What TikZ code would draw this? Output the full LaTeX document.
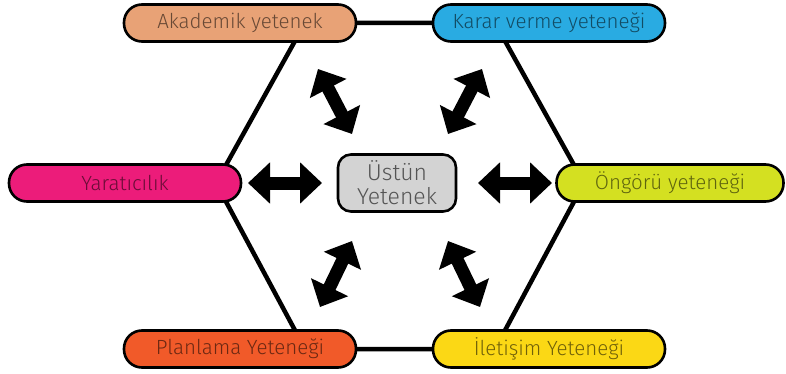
\documentclass[tikz,border=0pt]{standalone}
\usepackage{fontspec}
\setmainfont{Fira Sans Light}
\usetikzlibrary{arrows.meta}

\definecolor{akademik}{HTML}{E8A276}
\definecolor{karar}{HTML}{29ABE2}
\definecolor{yaraticilik}{HTML}{EC1C7A}
\definecolor{ongoru}{HTML}{D4E021}
\definecolor{planlama}{HTML}{F15A29}
\definecolor{iletisim}{HTML}{FBD815}
\definecolor{ustun}{HTML}{D3D3D3}

\tikzset{
	skill/.style={draw=black, line width=2.6pt, rounded corners=18pt,
		minimum width=232pt, minimum height=37pt, inner sep=0pt,
		font=\fontsize{20.5}{23}\selectfont, text=black, text opacity=0.55},
	hexline/.style={line width=4.5pt, line cap=round},
	fatarrow/.style={line width=13pt,
		{Triangle[width=40pt,length=22pt]}-{Triangle[width=40pt,length=22pt]}}
}

\begin{document}
\begin{tikzpicture}[x=1pt, y=-1pt]
		
		\useasboundingbox (0,0) rectangle (786,374);
		
		% Define the corners of the hexagon
		\coordinate (H1) at (305, 23);
		\coordinate (H2) at (495, 23);
		\coordinate (H3) at (584, 183);
		\coordinate (H4) at (495, 349);
		\coordinate (H5) at (305, 349);
		\coordinate (H6) at (216, 183);
		
		% Draw the hexagon behind the boxes
		\draw[hexline] (H1) -- (H2) -- (H3) -- (H4) -- (H5) -- (H6) -- cycle;
		
		% Draw the skill boxes
		\node[skill, fill=akademik] (aka) at (240, 23) {Akademik yetenek};
		\node[skill, fill=karar] (karar) at (549, 23) {Karar verme yeteneği};
		\node[skill, fill=yaraticilik] (yarat) at (125, 183) {Yaratıcılık};
		\node[skill, fill=ongoru, minimum width=227pt] (ongoru) at (670, 183) {Öngörü yeteneği};
		\node[skill, fill=planlama] (plan) at (240, 349) {Planlama Yeteneği};
		\node[skill, fill=iletisim] (ilet) at (549, 349) {İletişim Yeteneği};
		
		% Draw the centre box
		\node[draw=black, line width=2.6pt, rounded corners=13pt, fill=ustun,
			minimum width=118pt, minimum height=57pt, inner sep=0pt, align=center,
			font=\fontsize{23}{24}\selectfont, text=black, text opacity=0.6]
			(ustun) at (397, 183) {Üstün\\Yetenek};
		
		% Define the ends of the arrows
		\coordinate (TLa) at (318, 69);
		\coordinate (TLb) at (352, 134);
		\coordinate (TRa) at (482, 69);
		\coordinate (TRb) at (448, 134);
		\coordinate (La) at (248, 183);
		\coordinate (Lb) at (322, 183);
		\coordinate (Ra) at (478, 183);
		\coordinate (Rb) at (552, 183);
		\coordinate (BLa) at (352, 241);
		\coordinate (BLb) at (320, 307);
		\coordinate (BRa) at (448, 241);
		\coordinate (BRb) at (480, 307);
		
		% Draw the double arrows
		\draw[fatarrow] (TLa) -- (TLb);
		\draw[fatarrow] (TRa) -- (TRb);
		\draw[fatarrow] (La) -- (Lb);
		\draw[fatarrow] (Ra) -- (Rb);
		\draw[fatarrow] (BLa) -- (BLb);
		\draw[fatarrow] (BRa) -- (BRb);
		
	\end{tikzpicture}
\end{document}
